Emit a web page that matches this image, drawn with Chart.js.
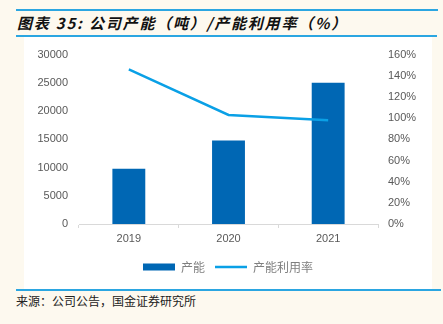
<!DOCTYPE html>
<html>
<head>
<meta charset="utf-8">
<script src="https://cdn.jsdelivr.net/npm/chart.js@4/dist/chart.umd.min.js"></script>
<style>
  body { margin: 0; background: #fdf9ef; width: 443px; height: 324px; position: relative; overflow: hidden; }
  .rule { position: absolute; left: 16px; height: 2px; background: #2ba6e1; }
  #title { position: absolute; left: 17px; top: 12px; font: italic bold 15px "Noto Sans CJK SC", sans-serif; letter-spacing: 1.8px; color: #111; white-space: nowrap; }
  #panel { position: absolute; left: 24px; top: 37px; width: 408px; height: 252px; background: #fff; }
  #source { position: absolute; left: 16px; top: 292px; font: 12px "Noto Sans CJK SC", serif; color: #222; }
</style>
</head>
<body>
<div class="rule" style="top:9px; width:422px;"></div>
<div id="title">图表 35: 公司产能（吨）/产能利用率（%）</div>
<div class="rule" style="top:35px; width:421px;"></div>
<div id="panel"><canvas id="c" width="408" height="252"></canvas></div>
<div class="rule" style="top:289px; width:425px;"></div>
<div id="source">来源：公司公告，国金证券研究所</div>
<script>
// 数据
const years = ['2019', '2020', '2021'];
const capacity = [9800, 14800, 25000];      // 产能（吨）
const utilization = [1.46, 1.03, 0.98];     // 产能利用率

const tickFont = { family: 'Liberation Sans', size: 11 };

new Chart(document.getElementById('c'), {
    type: 'bar',
    data: {
        labels: years,
        datasets: [
            { type: 'line', label: '产能利用率', data: utilization, yAxisID: 'y1',
              borderColor: '#0aa0e6', backgroundColor: '#0aa0e6', borderWidth: 2.5,
              pointRadius: 0, tension: 0, pointStyle: 'line', order: 0 },
            { label: '产能', data: capacity, yAxisID: 'y',
              backgroundColor: '#0067b4', barPercentage: 0.33, categoryPercentage: 1,
              pointStyle: 'rect', order: 1 }
        ]
    },
    options: {
        responsive: false,
        animation: false,
        layout: { padding: { top: 17, bottom: 6, left: 0, right: 0 } },
        plugins: {
            tooltip: { enabled: false },
            legend: {
                position: 'bottom',
                reverse: true,
                labels: {
                    usePointStyle: true, pointStyleWidth: 32, boxHeight: 7,
                    padding: 10, color: '#7f7f7f',
                    font: { family: 'Noto Sans CJK SC', size: 12 }
                }
            }
        },
        scales: {
            x: {
                grid: { display: true, drawOnChartArea: false, drawTicks: true, tickLength: 4, offset: true, color: '#d9d9d9' },
                border: { color: '#d9d9d9' },
                ticks: { color: '#595959', font: tickFont, padding: 4 },
                afterFit: s => { s.height = 27; }
            },
            y: {
                position: 'left', min: 0, max: 30000,
                grid: { display: false, drawTicks: false },
                border: { display: false },
                ticks: { stepSize: 5000, color: '#595959', font: tickFont, padding: 11,
                         callback: v => String(v) },
                afterFit: s => { s.width = 55; }
            },
            y1: {
                position: 'right', min: 0, max: 1.6,
                grid: { display: false, drawTicks: false },
                border: { display: false },
                ticks: { stepSize: 0.2, color: '#595959', font: tickFont, padding: 10,
                         callback: v => Math.round(v * 100) + '%' },
                afterFit: s => { s.width = 54; }
            }
        }
    }
});
</script>
</body>
</html>
